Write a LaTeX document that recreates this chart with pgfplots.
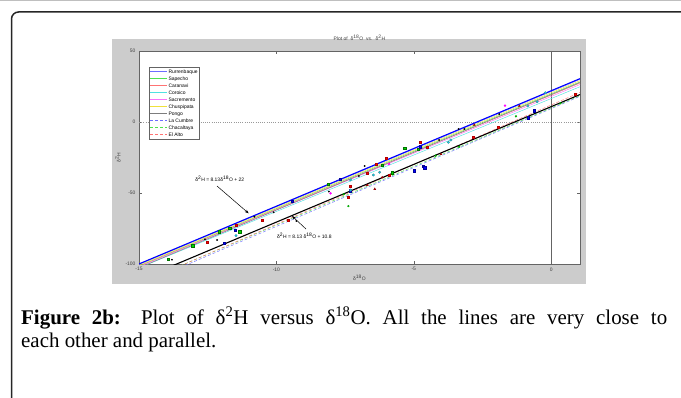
\documentclass[border=0pt]{standalone}
\usepackage{fontspec}
\setmainfont{Liberation Serif}
\newfontfamily\arial{Liberation Sans}
\usepackage{pgfplots}
\pgfplotsset{compat=1.18}
\usetikzlibrary{arrows.meta}
\definecolor{figgray}{RGB}{204,204,204}
\definecolor{axgray}{RGB}{100,100,100}
\definecolor{mblue}{RGB}{0,0,255}
\definecolor{mgreen}{RGB}{0,220,0}
\definecolor{mred}{RGB}{255,0,0}
\definecolor{mcyan}{RGB}{0,230,230}
\definecolor{mmag}{RGB}{255,0,255}
\definecolor{lblue}{RGB}{110,110,255}
\definecolor{lgreen}{RGB}{80,225,80}
\definecolor{lred}{RGB}{255,115,115}
\definecolor{lcyan}{RGB}{80,225,225}
\definecolor{lmag}{RGB}{250,115,250}
\definecolor{myel}{RGB}{240,225,60}
\definecolor{mgray}{RGB}{125,125,125}
\definecolor{dred}{RGB}{150,0,0}
\newcommand{\mtxt}{\arial\fontsize{5}{6}\selectfont}
\begin{document}
\begin{tikzpicture}[x=1bp,y=1bp]
\useasboundingbox (0,0) rectangle (681,397);
\fill[gray!50] (0,395.5) rectangle (681,397);
\draw[line width=1.5bp, rounded corners=7bp, black!85] (11.5,-5) -- (11.5,385) -- (700,385);
\fill[figgray] (112,113) rectangle (586,358);
\begin{axis}[
  at={(139bp,133bp)}, anchor=south west, scale only axis,
  width=441bp, height=213bp,
  xmin=-15, xmax=1.05, ymin=-100, ymax=50,
  axis background/.style={fill=white},
  axis line style={axgray, line width=0.5bp},
  tick style={axgray, line width=0.4bp},
  tick align=inside, major tick length=3bp,
  xtick={-15,-10,-5,0}, xticklabels={-15,-10,-5,0},
  ytick={-100,-50,0,50}, yticklabels={-100,-50,0,50},
  ticklabel style={font=\mtxt, text=black!75},
  title={Plot of \ δ\textsuperscript{18}O \ vs. \ δ\textsuperscript{2}H},
  title style={font=\mtxt, text=black!75, at={(0.5,1)}, anchor=south, inner sep=0pt, yshift=4bp},
  xlabel={δ\textsuperscript{18}O},
  xlabel style={font=\mtxt, text=black!75, at={(axis description cs:0.5,-0.066)}, anchor=center},
  ylabel={δ\textsuperscript{2}H},
  ylabel style={font=\mtxt, text=black!75, at={(axis description cs:-0.048,0.5)}, anchor=center},
  legend cell align=left,
  legend style={at={(axis description cs:0.0227,0.925)}, anchor=north west,
    draw=axgray, fill=white, font=\mtxt, inner sep=1bp, row sep=0bp,
    nodes={inner sep=0.8bp, text height=4.2bp, text depth=1.2bp}},
  legend image post style={line width=0.5bp},
]
% reference lines
\addplot[forget plot, draw=axgray, line width=0.5bp] coordinates {(0,-100) (0,50)};
\addplot[forget plot, draw=gray!80, line width=0.5bp, dash pattern=on 0.6bp off 1.6bp] coordinates {(-15,0) (1.05,0)};
% station lines
\addplot[draw=lblue, line width=0.45bp] coordinates {(-15,-100.3) (1.05,30.03)};
\addlegendentry{Rurrenbaque}
\addplot[draw=lgreen, line width=0.45bp] coordinates {(-15,-101.4) (1.05,28.28)};
\addlegendentry{Sapecho}
\addplot[draw=lred, line width=0.45bp] coordinates {(-15,-101.75) (1.05,27.45)};
\addlegendentry{Caranavi}
\addplot[draw=lcyan, line width=0.45bp] coordinates {(-15,-102.75) (1.05,24.85)};
\addlegendentry{Coroico}
\addplot[draw=lmag, line width=0.45bp] coordinates {(-15,-102.0) (1.05,26.4)};
\addlegendentry{Sacremento}
\addplot[draw=myel, line width=0.45bp] coordinates {(-15,-100.9) (1.05,29.1)};
\addlegendentry{Chuspipata}
\addplot[draw=mgray, line width=0.45bp] coordinates {(-15,-102.65) (1.05,27.84)};
\addlegendentry{Pongo}
\addplot[draw=lblue, line width=0.45bp, dash pattern=on 3bp off 2bp] coordinates {(-15,-114.95) (1.05,18.1)};
\addlegendentry{La Cumbre}
\addplot[draw=lgreen, line width=0.45bp, dash pattern=on 3bp off 2bp] coordinates {(-15,-113.7) (1.05,18.55)};
\addlegendentry{Chacaltaya}
\addplot[draw=lred, line width=0.45bp, dash pattern=on 3bp off 2bp] coordinates {(-15,-114.0) (1.05,20.82)};
\addlegendentry{El Alto}
% fitted lines
\addplot[forget plot, draw=mblue, line width=1.1bp] coordinates {(-15,-99.95) (1.05,30.54)};
\addplot[forget plot, draw=black, line width=1.1bp] coordinates {(-15,-111.15) (1.05,19.34)};
% data points
\addplot[forget plot, only marks, mark=square*, mark size=1.2bp, mark options={draw=green!45!black, fill=mgreen}] coordinates {
(-13.93,-96.5) (-13.05,-87.1) (-12.08,-77.2) (-11.7,-74.9) (-11.34,-77.2) (-8.11,-43.7) (-5.33,-18.5) (-4.83,-19) (-6.15,-30.3) (-5.78,-35.7)};
\addplot[forget plot, only marks, mark=*, mark size=0.9bp, mark options={draw=green!60!black, fill=mgreen}] coordinates {
(-7.55,-50.9) (-7.38,-59.2) (-4.2,-23.7) (-3.35,-17.4) (-1.28,4) (0.34,13.2)};
\addplot[forget plot, only marks, mark=square*, mark size=1.0bp, mark options={draw=red!70!black, fill=mred}] coordinates {
(-12.53,-84.3) (-11.46,-73) (-10.52,-69.5) (-9.57,-69) (-6.35,-29.6) (-6.02,-25.8) (-4.77,-13.9) (-4.5,-17.6) (-7.32,-44.9) (-6.69,-36.1) (-5.9,-37.8) (-7.38,-53.3) (-2.82,-10.4) (-1.94,-3.7) (0.88,19.5)};
\addplot[forget plot, only marks, mark=square*, mark size=1.1bp, mark options={draw=blue!60!black, fill=mblue}] coordinates {
(-11.5,-76) (-11.9,-85.2) (-9.43,-55.8) (-4.77,-17.4) (-7.69,-40.4) (-4.99,-34.3) (-4.66,-31) (-4.6,-32.2) (-0.85,3) (-0.61,8) (-7.3,-48.4)};
\addplot[forget plot, only marks, mark=*, mark size=1.2bp, mark options={draw=cyan!60!black, fill=mcyan}] coordinates {
(-11.47,-80) (-3.74,-14.3) (-3.65,-12.7) (-0.85,11.3) (-0.51,14.3) (-0.21,20.6) (-7.3,-47.9) (-7.3,-40.8) (-6.47,-37.3) (-6.24,-35.4)};
\addplot[forget plot, only marks, mark=*, mark size=0.7bp, mark options={draw=black, fill=black}] coordinates {
(-13.8,-97) (-12.6,-82.6) (-12.16,-83.1) (-10.8,-66.7) (-10.1,-63.6) (-6.79,-31) (-4.08,-12.7) (-3.37,-4.9) (-3.16,-4.9) (-1.89,5.6) (-7.0,-38) (-9.27,-69.7) (-8.09,-49)};
\addplot[forget plot, only marks, mark=*, mark size=1.0bp, mark options={draw=mmag, fill=mmag}] coordinates {
(-8.03,-50.2) (-1.68,11.5) (-5.9,-29.6)};
\addplot[forget plot, only marks, mark=triangle*, mark size=1.1bp, mark options={draw=dred, fill=dred}] coordinates {
(-6.42,-47.2) (-6.69,-44.4) (-6.15,-39) (-4.01,-22.7) (-2.8,-2.1) (-1.16,11.3)};
% annotations
\node[anchor=west, font=\mtxt, inner sep=0pt] at (axis cs:-12.96,-40.1) {δ\textsuperscript{2}H = 8.13δ\textsuperscript{18}O + 22};
\draw[-{Stealth[length=4bp,width=3bp]}, line width=0.5bp] (axis cs:-12.16,-45.1) -- (axis cs:-11.01,-64.3);
\node[anchor=west, font=\mtxt, inner sep=0pt] at (axis cs:-9.98,-80.3) {δ\textsuperscript{2}H = 8.13 δ\textsuperscript{18}O + 10.8};
\draw[-{Stealth[length=4bp,width=3bp]}, line width=0.5bp] (axis cs:-8.92,-75.4) -- (axis cs:-9.43,-66.2);
\end{axis}
\node[anchor=base west, inner sep=0pt] at (21,73) {\fontsize{21}{25}\selectfont\makebox[646bp][s]{\textbf{Figure 2b:} Plot of δ\textsuperscript{2}H versus δ\textsuperscript{18}O. All the lines are very close to}};
\node[anchor=base west, inner sep=0pt] at (21,50) {\fontsize{21}{25}\selectfont each other and parallel.};
\end{tikzpicture}
\end{document}
